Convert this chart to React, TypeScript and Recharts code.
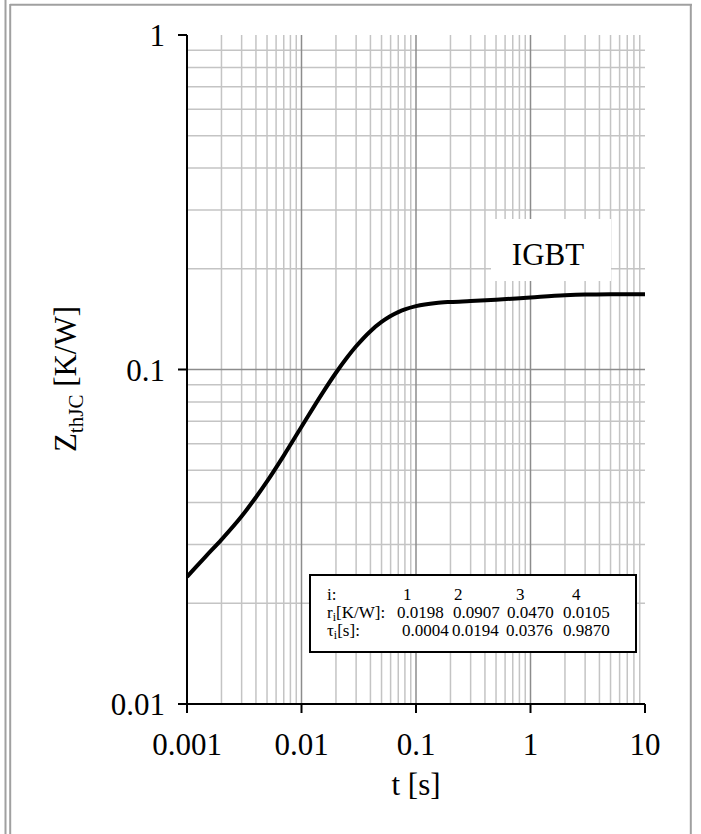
import React from 'react';
import { LineChart, Line, XAxis, YAxis, ReferenceLine } from 'recharts';

const tValues = [0.001, 0.0012, 0.0015, 0.002, 0.003, 0.004, 0.005, 0.007, 0.01, 0.015, 0.02, 0.025, 0.03, 0.04, 0.05, 0.06, 0.07, 0.08, 0.1, 0.15, 0.2, 0.3, 0.5, 1, 2, 3, 5, 10];
const zValues = [0.024, 0.0257, 0.0279, 0.031, 0.0364, 0.0415, 0.0463, 0.0553, 0.0674, 0.0843, 0.0978, 0.1086, 0.1173, 0.1302, 0.1387, 0.1445, 0.1485, 0.1513, 0.1547, 0.1581, 0.1592, 0.1602, 0.1617, 0.1642, 0.1666, 0.1675, 0.1679, 0.168];

const xTicks = [0.001, 0.01, 0.1, 1, 10];
const yTicks = [0.01, 0.1, 1];
const xMinorGrid = [0.002, 0.003, 0.004, 0.005, 0.006, 0.007, 0.008, 0.009, 0.02, 0.03, 0.04, 0.05, 0.06, 0.07, 0.08, 0.09, 0.2, 0.3, 0.4, 0.5, 0.6, 0.7, 0.8, 0.9, 2, 3, 4, 5, 6, 7, 8, 9];
const xMajorGrid = [0.01, 0.1, 1];
const yMinorGrid = [0.02, 0.03, 0.04, 0.05, 0.06, 0.07, 0.08, 0.09, 0.2, 0.3, 0.4, 0.5, 0.6, 0.7, 0.8, 0.9];
const yMajorGrid = [0.1];

const tableIndex = ['1', '2', '3', '4'];
const tableR = ['0.0198', '0.0907', '0.0470', '0.0105'];
const tableTau = ['0.0004', '0.0194', '0.0376', '0.9870'];

const data = tValues.map((t, i) => ({ t, z: zValues[i] }));

const FONT = '"Liberation Serif", "Times New Roman", serif';

const XTick = (props: any) => {
  const { x, y, payload } = props;
  return (
    <text x={x} y={y + 40} textAnchor="middle" fontSize={31} fontFamily={FONT} fill="#000">
      {String(payload.value)}
    </text>
  );
};

const YTick = (props: any) => {
  const { x, y, payload } = props;
  return (
    <text x={x} y={y + 11} textAnchor="end" fontSize={31} fontFamily={FONT} fill="#000">
      {String(payload.value)}
    </text>
  );
};

const idxX = [403, 454, 516, 572];
const rX = [397, 453, 507, 563];
const tauX = [402, 452, 506, 563];

export default function App() {
  return (
    <div style={{ position: 'absolute', left: 0, top: 0, width: 701, height: 834, background: '#fff' }}>
      <div style={{ position: 'absolute', left: 0, top: 0 }}>
        <LineChart width={701} height={834} data={data} margin={{ top: 35, right: 56, left: 0, bottom: 0 }}>
          <XAxis
            xAxisId="b"
            dataKey="t"
            type="number"
            scale="log"
            domain={[0.001, 10]}
            ticks={xTicks}
            allowDataOverflow
            height={130}
            tickSize={9}
            tickMargin={2}
            tick={<XTick />}
            axisLine={{ stroke: '#000', strokeWidth: 2 }}
            tickLine={{ stroke: '#000', strokeWidth: 2 }}
          />
          <XAxis
            xAxisId="top"
            orientation="top"
            dataKey="t"
            type="number"
            scale="log"
            domain={[0.001, 10]}
            allowDataOverflow
            height={0}
            tick={false}
            tickLine={false}
            axisLine={{ stroke: '#000', strokeWidth: 2 }}
          />
          <YAxis
            yAxisId="l"
            type="number"
            scale="log"
            domain={[0.01, 1]}
            ticks={yTicks}
            allowDataOverflow
            width={187}
            tickSize={9}
            tickMargin={13}
            tick={<YTick />}
            axisLine={{ stroke: '#000', strokeWidth: 2 }}
            tickLine={{ stroke: '#000', strokeWidth: 2 }}
          />
          <YAxis
            yAxisId="r"
            orientation="right"
            type="number"
            scale="log"
            domain={[0.01, 1]}
            allowDataOverflow
            width={0}
            tick={false}
            tickLine={false}
            axisLine={{ stroke: '#000', strokeWidth: 2 }}
          />
          {xMinorGrid.map((v) => (
            <ReferenceLine key={'xm' + v} xAxisId="b" yAxisId="l" x={v} stroke="#c4c4c4" strokeWidth={1.5} />
          ))}
          {yMinorGrid.map((v) => (
            <ReferenceLine key={'ym' + v} xAxisId="b" yAxisId="l" y={v} stroke="#c4c4c4" strokeWidth={1.5} />
          ))}
          {xMajorGrid.map((v) => (
            <ReferenceLine key={'xM' + v} xAxisId="b" yAxisId="l" x={v} stroke="#8c8c8c" strokeWidth={1.5} />
          ))}
          {yMajorGrid.map((v) => (
            <ReferenceLine key={'yM' + v} xAxisId="b" yAxisId="l" y={v} stroke="#8c8c8c" strokeWidth={1.5} />
          ))}
          <Line
            xAxisId="b"
            yAxisId="l"
            dataKey="z"
            type="monotone"
            stroke="#000"
            strokeWidth={4}
            dot={false}
            activeDot={false}
            isAnimationActive={false}
          />
        </LineChart>
      </div>
      <svg
        width={701}
        height={834}
        style={{ position: 'absolute', left: 0, top: 0, pointerEvents: 'none' }}
        fontFamily={FONT}
      >
        <line x1={5.5} y1={0} x2={5.5} y2={834} stroke="#a0a0a0" strokeWidth={2} />
        <line x1={10.2} y1={4} x2={10.2} y2={834} stroke="#a0a0a0" strokeWidth={2} />
        <line x1={10} y1={4.8} x2={692} y2={4.8} stroke="#a0a0a0" strokeWidth={2} />
        <line x1={690.8} y1={4} x2={690.8} y2={834} stroke="#a0a0a0" strokeWidth={2} />

        <text x={76} y={379} transform="rotate(-90 76 379)" textAnchor="middle" fontSize={31} fill="#000">
          Z<tspan fontSize={21} dy={7}>thJC</tspan>
          <tspan dy={-7}> [K/W]</tspan>
        </text>
        <text x={416} y={795} textAnchor="middle" fontSize={31} fill="#000">
          t [s]
        </text>

        <rect x={491} y={219} width={120} height={62} fill="#fff" />
        <text x={548} y={265} textAnchor="middle" fontSize={31} fill="#000">
          IGBT
        </text>

        <rect x={310} y={575} width={326} height={77} fill="#fff" stroke="#000" strokeWidth={2} />
        <g fontSize={17} fill="#000">
          <text x={327} y={600}>i:</text>
          {tableIndex.map((s, i) => (
            <text key={'i' + i} x={idxX[i]} y={600}>{s}</text>
          ))}
          <text x={327} y={618}>
            r<tspan fontSize={12} dy={3}>i</tspan>
            <tspan dy={-3}>[K/W]:</tspan>
          </text>
          {tableR.map((s, i) => (
            <text key={'r' + i} x={rX[i]} y={618}>{s}</text>
          ))}
          <text x={327} y={636}>
            τ<tspan fontSize={12} dy={3}>i</tspan>
            <tspan dy={-3}>[s]:</tspan>
          </text>
          {tableTau.map((s, i) => (
            <text key={'t' + i} x={tauX[i]} y={636}>{s}</text>
          ))}
        </g>
      </svg>
    </div>
  );
}
